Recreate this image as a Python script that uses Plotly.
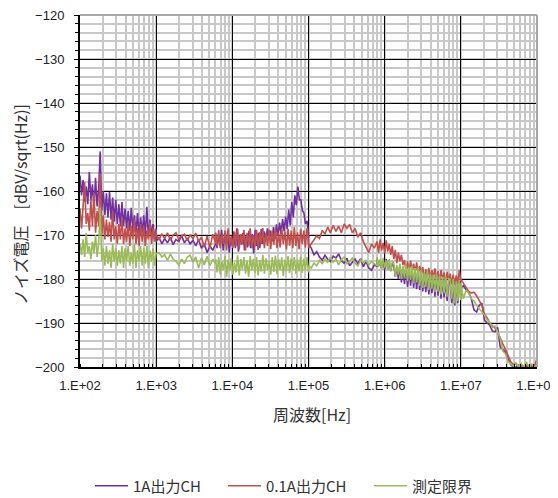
import numpy as np
import plotly.graph_objects as go

# segment boundaries (log10 Hz) of the measured sweeps
seg_bounds = [(2.0, 3.0), (3.0, 3.78), (3.78, 5.0), (5.0, 5.9), (5.9, 7.0), (7.0, 8.0)]

# ---- 1A出力CH (purple) ----
p1 = [-156.5,-161.0,-157.5,-162.5,-159.0,-163.0,-155.7,-162.0,-158.5,-164.0,-157.0,-163.5,-159.5,-151.0,-164.5,-160.0,-165.5,-160.5,-166.0,-160.2,-166.5,-161.5,-167.0,-162.0,-167.5,-163.0,-168.0,-162.5,-168.0,-164.0,-168.5,-164.5,-169.0,-163.8,-169.0,-165.5,-169.5,-165.0,-170.0,-166.0,-169.5,-165.5,-170.0,-163.6,-170.5,-166.5,-170.0,-167.5,-171.0,-168.5]
p2 = [-171.5,-170.5,-172.0,-170.8,-171.8,-170.5,-172.2,-171.0,-171.5,-170.2,-171.8,-170.8,-172.0,-171.2,-172.5,-171.0,-173.0,-172.0,-174.0,-172.5,-173.5,-172.0]
p3 = [-169.5,-173.0,-170.0,-172.5,-168.8,-173.5,-170.2,-172.0,-169.0,-174.0,-170.5,-172.5,-169.2,-173.0,-168.5,-173.8,-170.0,-172.2,-169.5,-173.5,-170.2,-172.8,-169.0,-173.0,-169.8,-174.2,-168.8,-172.5,-169.5,-173.0,-168.6,-172.0,-169.2,-171.5,-168.5,-171.0,
      -169.0,-171.5,-168.2,-170.8,-167.6,-170.2,-167.2,-169.8,-166.4,-169.2,-165.8,-168.6,-164.2,-167.8,-162.5,-166.0,-161.0,-163.2,-159.0,-162.0,-162.0,-164.5,-165.0,-167.5,-166.8,-169.5]
p4 = [-172.0,-173.0,-174.5,-173.8,-175.0,-175.7,-174.6,-175.5,-176.0,-174.8,-175.2,-174.3,-175.8,-176.4,-175.3,-177.0,-176.2,-175.5,-176.5,-175.4,-177.2,-176.0,-177.5,-178.0,-176.8,-177.2]
p5 = [-175.5,-177.0,-175.8,-177.5,-176.0,-178.0,-175.5,-177.8,-176.2,-178.2,-176.5,
      -177.0,-179.5,-177.2,-180.0,-177.0,-180.8,-177.5,-181.2,-177.3,-181.8,-177.8,-181.5,-178.0,-182.0,-178.2,-182.3,-178.0,-182.5,
      -178.5,-182.8,-178.8,-183.0,-179.0,-183.5,-179.0,-183.2,-179.5,-184.0,-179.3,-183.8,-179.8,-184.5,-180.0,-184.2,-180.2,-185.0,-180.5,
      -180.5,-185.5,-180.8,-186.0,-180.5,-185.5,-180.0,-184.5]
p6 = [-182.0,-181.5,-182.5,-183.0,-184.5,-187.0,-187.5,-186.0,-185.5,-189.3,-190.0,-190.5,-191.8,-192.0,-191.0,-195.5,-196.0,-196.6,-198.0,-199.5,-200.0,-200.0,-199.6,-200.0,-200.0,-199.8,-200.0,-200.0,-199.7,-200.0]

# ---- 0.1A出力CH (red) ----
r1 = [-164.0,-168.5,-163.5,-158.0,-167.5,-165.0,-169.0,-162.0,-168.0,-160.5,-169.5,-164.5,-168.0,-156.0,-170.0,-165.5,-171.0,-166.5,-170.5,-167.0,-171.5,-164.5,-171.0,-168.0,-172.0,-167.5,-171.0,-166.0,-172.0,-168.5,-171.5,-167.0,-172.5,-168.0,-171.0,-166.5,-172.0,-168.5,-172.5,-167.5,-171.5,-168.0,-172.5,-169.0,-171.0,-167.0,-172.0,-168.5,-171.5,-169.0]
r2 = [-170.0,-171.0,-169.8,-170.8,-169.5,-171.2,-170.0,-169.5,-171.0,-170.2,-169.8,-171.3,-170.0,-170.8,-169.6,-171.5,-170.5,-172.8,-170.2,-173.0,-169.8,-172.0]
r3 = [-169.5,-172.5,-168.8,-173.0,-170.0,-172.0,-169.0,-173.5,-168.5,-172.2,-170.2,-173.0,-169.2,-172.5,-168.6,-173.2,-169.8,-172.0,-168.8,-173.5,-169.5,-172.4,-168.5,-173.0,-170.0,-172.6,-168.8,-173.4,-169.3,-172.0,-168.4,-173.0,-169.6,-172.5,-168.8,-173.2,-169.0,-172.2,-168.3,-173.0,-169.5,-172.8,-168.5,-172.0,-169.2,-173.3,-168.6,-172.4,-169.0,-173.0,-168.2,-172.5,-169.4,-173.2,-168.6,-172.0,-169.0,-172.8,-168.5,-172.0]
r4 = [-173.0,-172.0,-171.0,-170.2,-170.8,-169.0,-169.8,-168.2,-169.5,-167.8,-169.2,-168.0,-169.5,-167.5,-168.5,-167.6,-169.5,-168.5,-170.5,-169.5,-171.5,-172.8,-174.0,-172.0,-173.0,-171.5]
r5 = [-171.5,-174.0,-171.0,-173.5,-171.8,-174.2,-171.2,-173.8,-172.0,-174.5,-172.5,
      -175.5,-173.4,-176.4,-174.0,-176.0,-174.5,-176.8,
      -175.7,-178.2,-176.0,-178.6,-175.8,-178.0,-176.5,-178.5,-176.2,-178.8,-177.0,-179.0,
      -177.3,-180.0,-177.8,-179.5,-177.5,-180.2,-178.0,-179.8,-177.6,-180.0,-178.2,-180.5,-178.0,-180.2,-178.5,-180.8,-178.3,-180.5,
      -178.8,-181.2,-179.0,-181.4,-179.2,-181.0,-178.0,-180.5]
r6 = [-180.0,-181.0,-182.0,-182.8,-183.2,-183.0,-183.8,-185.0,-186.0,-188.0,-188.8,-190.0,-190.5,-191.2,-192.0,-193.5,-194.8,-196.0,-197.5,-198.8,-199.5,-199.2,-200.0,-199.5,-200.0,-199.6,-200.0,-199.4,-200.0,-198.0]

# ---- 測定限界 (green) ----
g1 = [-172.0,-174.5,-171.0,-175.0,-169.5,-174.0,-172.5,-175.5,-171.5,-174.0,-170.0,-175.0,-172.0,-163.8,-176.0,-173.0,-177.0,-172.5,-176.5,-173.5,-177.5,-172.0,-176.0,-173.0,-177.0,-173.5,-176.5,-172.5,-177.5,-173.0,-176.0,-172.5,-177.0,-174.0,-176.5,-172.0,-177.5,-173.5,-176.0,-172.5,-177.0,-173.0,-176.5,-172.5,-177.5,-173.5,-176.0,-173.0,-177.0,-174.0]
g2 = [-174.2,-174.0,-175.0,-174.5,-175.8,-174.3,-175.5,-176.0,-176.8,-175.5,-176.5,-175.0,-174.6,-176.2,-175.0,-177.5,-175.2,-176.8,-174.8,-177.0,-175.5,-176.5]
g3 = [-175.5,-178.5,-175.0,-179.0,-176.0,-178.0,-174.8,-179.5,-175.6,-178.2,-175.2,-179.0,-176.2,-178.5,-174.6,-179.2,-175.5,-177.8,-175.0,-178.8,-175.8,-179.5,-174.8,-178.0,-175.4,-178.6,-175.0,-179.2,-175.7,-178.3,-174.5,-178.8,-175.3,-178.0,-175.8,-179.0,-175.0,-178.4,-174.7,-178.9,-175.5,-178.0,-175.1,-179.3,-175.6,-178.2,-174.8,-178.7,-175.3,-178.0,-175.0,-178.8,-175.6,-178.3,-174.9,-178.6,-175.4,-178.0,-175.0,-178.5]
g4 = [-177.0,-177.5,-176.4,-177.0,-175.8,-176.5,-175.5,-176.2,-175.0,-176.2,-175.5,-176.8,-175.6,-175.0,-176.5,-176.0,-175.2,-176.4,-177.0,-175.7,-176.3,-175.8,-176.8,-176.0,-176.4,-177.0]
g5 = [-175.0,-177.3,-175.5,-177.8,-175.2,-177.5,-175.8,-178.0,-175.5,-178.2,-176.0,
      -176.4,-179.5,-176.8,-179.0,-176.5,-180.0,-177.0,-179.8,-176.8,-180.5,-177.2,-180.2,-177.0,-181.0,-177.5,-180.8,-177.3,-181.6,
      -178.0,-182.0,-178.5,-181.8,-178.2,-182.5,-178.8,-182.2,-179.0,-183.0,-178.8,-182.8,-179.2,-183.5,-179.5,-183.2,-179.3,-184.0,-179.8,
      -180.2,-184.5,-180.0,-185.5,-180.5,-185.0,-180.2,-184.8]
g6 = [-181.0,-184.5,-182.5,-183.2,-184.5,-185.0,-186.0,-186.8,-187.5,-188.2,-189.3,-189.8,-191.0,-190.7,-192.0,-193.5,-196.4,-197.0,-198.8,-199.2,-199.8,-199.0,-200.0,-199.2,-200.0,-199.0,-200.0,-199.4,-200.0,-199.5]

x_tickvals = [1e2, 1e3, 1e4, 1e5, 1e6, 1e7, 1e8]
x_ticktext = ["1.E+02", "1.E+03", "1.E+04", "1.E+05", "1.E+06", "1.E+07", "1.E+08"]
y_tickvals = [-200, -190, -180, -170, -160, -150, -140, -130, -120]

names = ["1A出力CH", "0.1A出力CH", "測定限界"]
colors = ["#7030A0", "#C0504D", "#9BBB59"]
series = [[p1, p2, p3, p4, p5, p6], [r1, r2, r3, r4, r5, r6], [g1, g2, g3, g4, g5, g6]]
legend_widths = [85, 98, 66]


def build(segs):
    fx, fy = [], []
    for (a, b), vals in zip(seg_bounds, segs):
        fx.extend(np.logspace(a, b, len(vals)).tolist())
        fy.extend(vals)
    return fx, fy


fig = go.Figure()
for name, col, segs, lw in zip(names, colors, series, legend_widths):
    fx, fy = build(segs)
    fig.add_trace(go.Scatter(x=fx, y=fy, mode="lines", name=name, legendwidth=lw,
                             line=dict(color=col, width=1.6)))

# the page body adds an 8px offset; the figure is laid out so screen positions match
OFF = 8
W, H = 558, 506
L, T = 80 - OFF, 15 - OFF
PR, PB = 537 - OFF, 367 - OFF          # plot right / bottom in figure px
R, B = W - PR, H - PB
pw, ph = PR - L, PB - T


def px2paper(sx, sy):
    """screen px -> paper coords"""
    return (sx - OFF - L) / pw, (PB - (sy - OFF)) / ph


tick_font = dict(family="Liberation Sans, Arial, sans-serif", size=13, color="#222222")
jp_font = "Noto Sans CJK JP, sans-serif"

fig.update_layout(
    width=W, height=H,
    margin=dict(l=L, r=R, t=T, b=B, pad=0, autoexpand=False),
    paper_bgcolor="white", plot_bgcolor="white",
    showlegend=True,
    legend=dict(orientation="h", x=px2paper(90, 0)[0], y=px2paper(0, 486)[1],
                xanchor="left", yanchor="middle",
                font=dict(family=jp_font, size=15, color="#333333"),
                itemwidth=33, tracegroupgap=0, bgcolor="rgba(0,0,0,0)"),
    xaxis=dict(type="log", range=[2, 8], tickvals=x_tickvals, ticktext=x_ticktext,
               showgrid=True, gridcolor="#000000", gridwidth=1.2,
               showline=True, linecolor="#000000", linewidth=2,
               ticks="", tickfont=tick_font, ticklabelstandoff=5,
               ticklabeloverflow="allow",
               minor=dict(dtick="D1", showgrid=True, gridcolor="#c8c8c8", gridwidth=1.5,
                          ticks="inside", ticklen=3, tickcolor="#000000"),
               zeroline=False),
    yaxis=dict(range=[-200, -120], tickvals=y_tickvals,
               showgrid=True, gridcolor="#000000", gridwidth=1.2,
               showline=True, linecolor="#000000", linewidth=2,
               ticks="outside", ticklen=4, tickcolor="#000000", tickfont=tick_font,
               ticklabelstandoff=7, ticklabeloverflow="allow",
               minor=dict(dtick=2, showgrid=True, gridcolor="#c8c8c8", gridwidth=1.5,
                          ticks="outside", ticklen=3, tickcolor="#000000"),
               zeroline=False),
    shapes=[
        dict(type="line", xref="paper", yref="paper", x0=0, x1=1, y0=1, y1=1,
             line=dict(color="#a6a6a6", width=2), layer="above"),
        dict(type="line", xref="paper", yref="paper", x0=1, x1=1, y0=0, y1=1,
             line=dict(color="#a6a6a6", width=2), layer="above"),
    ],
    annotations=[
        dict(text="周波数[Hz]", xref="paper", yref="paper",
             x=px2paper(312, 0)[0], y=px2paper(0, 414)[1], showarrow=False,
             xanchor="center", yanchor="middle",
             font=dict(family=jp_font, size=16, color="#333333")),
        dict(text="ノイズ電圧　[dBV/sqrt(Hz)]", xref="paper", yref="paper",
             x=px2paper(20, 0)[0], y=px2paper(0, 205)[1], showarrow=False,
             xanchor="center", yanchor="middle", textangle=-90,
             font=dict(family=jp_font, size=16, color="#333333")),
    ],
)

fig.write_html("out.html")
